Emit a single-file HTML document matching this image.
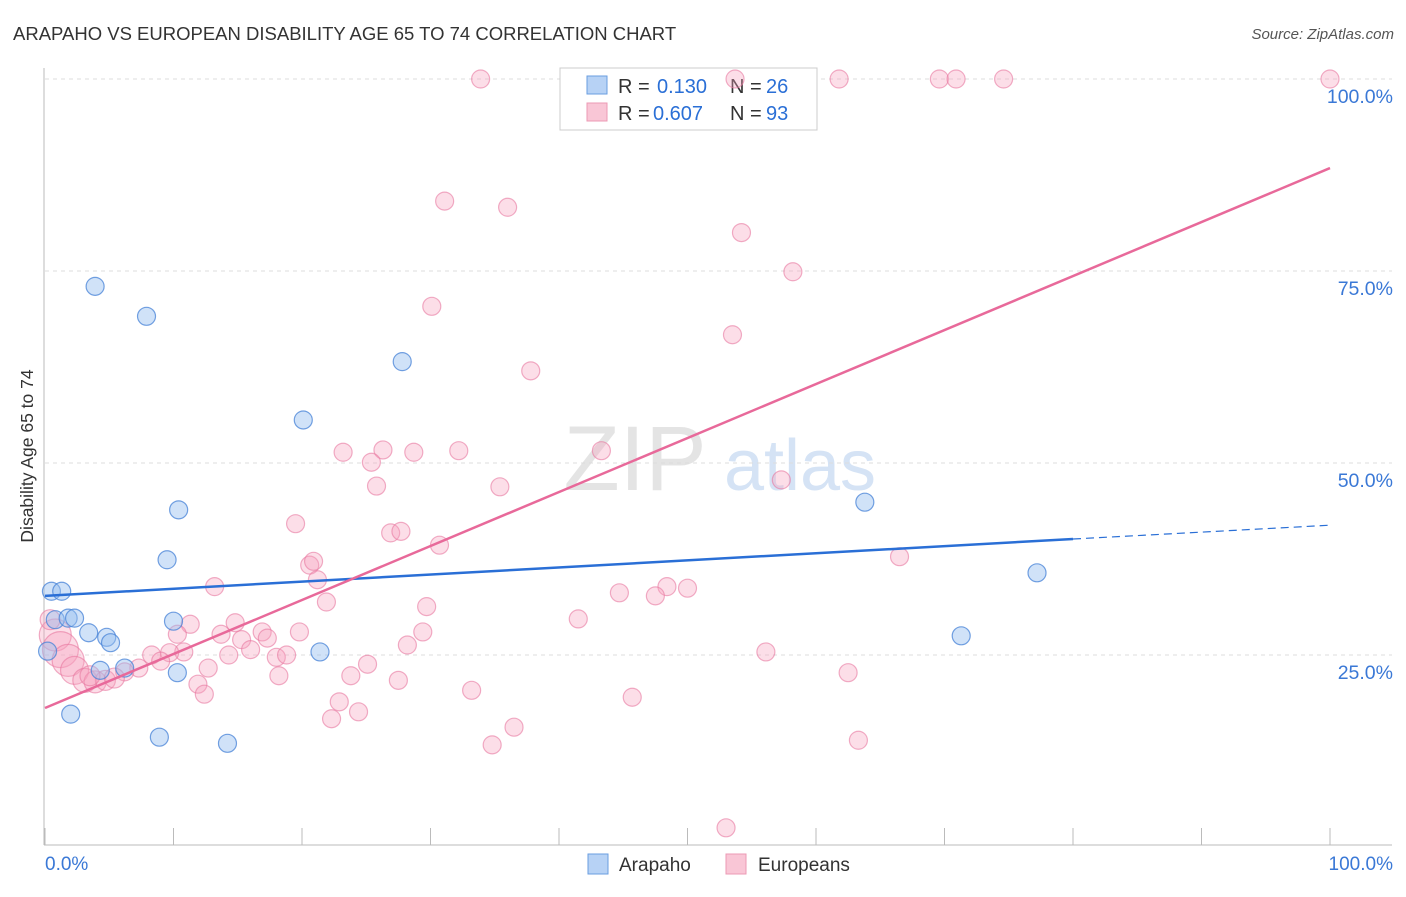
<!DOCTYPE html>
<html><head><meta charset="utf-8"><style>
body{margin:0;background:#fff;font-family:"Liberation Sans",sans-serif}
svg text{font-family:"Liberation Sans",sans-serif}
</style></head><body>
<svg id="chart" width="1406" height="892" xmlns="http://www.w3.org/2000/svg">
<text x="13" y="40" font-size="18.5" fill="#333">ARAPAHO VS EUROPEAN DISABILITY AGE 65 TO 74 CORRELATION CHART</text>
<text x="1394" y="39" font-size="15" fill="#555" text-anchor="end" font-style="italic">Source: ZipAtlas.com</text>
<text transform="translate(33,456) rotate(-90)" font-size="17.5" fill="#333" text-anchor="middle">Disability Age 65 to 74</text>
<g><text x="635" y="490" font-size="92" fill="#e4e4e4" text-anchor="middle" font-family="Liberation Serif">ZIP</text><text x="800" y="490" font-size="72" fill="#d5e3f5" text-anchor="middle">atlas</text></g>
<g id="grid"></g><g id="axes"></g>
<g>
<rect x="560" y="68" width="257" height="62" fill="#fff" stroke="#ccc"/>
<rect x="587" y="76" width="20" height="18" fill="#b7d2f5" stroke="#6a9ee0"/>
<rect x="587" y="103" width="20" height="18" fill="#f9c6d6" stroke="#ec9ab4"/>
<text x="618" y="93" font-size="20" fill="#333">R = </text><text x="657" y="93" font-size="20" fill="#2a6fd6">0.130</text>
<text x="730" y="93" font-size="20" fill="#333">N = </text><text x="766" y="93" font-size="20" fill="#2a6fd6">26</text>
<text x="618" y="120" font-size="20" fill="#333">R = </text><text x="653" y="120" font-size="20" fill="#2a6fd6">0.607</text>
<text x="730" y="120" font-size="20" fill="#333">N = </text><text x="766" y="120" font-size="20" fill="#2a6fd6">93</text>
</g>
<g id="marks"></g>
<g>
<rect x="588" y="854" width="20" height="20" fill="#b7d2f5" stroke="#6a9ee0"/>
<text x="619" y="871" font-size="19" fill="#333">Arapaho</text>
<rect x="726" y="854" width="20" height="20" fill="#f9c6d6" stroke="#ec9ab4"/>
<text x="758" y="871" font-size="19" fill="#333">Europeans</text>
</g>
</svg>
<script>
const yTicks=[25,50,75,100];
const yTickLabels=["25.0%","50.0%","75.0%","100.0%"];
const xTickLabels=["0.0%","100.0%"];
const arapahoX=[3.9,7.9,27.8,20.1,10.4,9.5,63.8,77.2,71.3,0.5,1.3,0.8,1.8,2.3,3.4,4.8,5.1,10.0,0.2,4.3,6.2,21.4,10.3,2.0,8.9,14.2];
const arapahoY=[73.0,69.1,63.2,55.6,43.9,37.4,44.9,35.7,27.5,33.3,33.3,29.6,29.8,29.8,27.9,27.3,26.6,29.4,25.5,23.0,23.3,25.4,22.7,17.3,14.3,13.5];
const euroX=[33.9,53.7,61.8,69.6,70.9,74.6,100,31.1,36.0,54.2,58.2,30.1,53.5,37.8,23.2,26.3,28.7,32.2,25.4,43.3,25.8,35.4,57.3,19.5,26.9,27.7,30.7,20.6,20.9,21.2,66.5,13.2,48.4,50.0,44.7,47.5,21.9,29.7,41.5,11.3,14.8,10.3,13.7,16.9,17.3,19.8,29.4,28.2,15.3,16.0,10.8,8.3,9.7,14.3,18.0,18.8,9.0,56.1,12.7,25.1,23.8,62.5,18.2,7.3,6.2,11.9,12.4,27.5,33.2,45.7,22.9,24.4,22.3,36.5,34.8,63.3,53.0,0.8,1.2,1.8,2.3,3.1,3.9,4.7,5.4,0.4,3.5];
const euroY=[100,100,100,100,100,100,100,84.1,83.3,80.0,74.9,70.4,66.7,62.0,51.4,51.7,51.4,51.6,50.1,51.6,47.0,46.9,47.8,42.1,40.9,41.1,39.3,36.7,37.2,34.8,37.8,33.9,33.9,33.7,33.1,32.7,31.9,31.3,29.7,29.0,29.2,27.7,27.7,28.0,27.2,28.0,28.0,26.3,27.0,25.7,25.4,25.0,25.3,25.0,24.7,25.0,24.2,25.4,23.3,23.8,22.3,22.7,22.3,23.3,22.8,21.2,19.9,21.7,20.4,19.5,18.9,17.6,16.7,15.6,13.3,13.9,2.5,27.6,25.7,24.3,23.0,21.7,21.5,21.7,22.0,29.6,22.3];
const euroBig=[16,18,16,14,12,11,10,10,10,10];
const arapahoTrend=[32.7,40.1,41.9];
const euroTrend=[18.1,88.4];
const X0=45,X1=1330,Y0=847,Y100=79;
const sx=v=>X0+(X1-X0)*v/100, sy=v=>Y0-(Y0-Y100)*v/100;
const NS="http://www.w3.org/2000/svg";
function mk(parent,tag,attrs){const e=document.createElementNS(NS,tag);for(const k in attrs)e.setAttribute(k,attrs[k]);document.getElementById(parent).appendChild(e);return e;}
yTicks.forEach((t,i)=>{
 const g=mk('grid','line',{x1:45,x2:1392,y1:sy(t),y2:sy(t),stroke:'#ddd','stroke-dasharray':'4,4'});
 
 
 const l=mk('axes','text',{x:1393,y:sy(t)+24,'font-size':19.5,fill:'#3a78d6','text-anchor':'end'});
 l.textContent=yTickLabels[i];
 
 
});
let ax=mk('axes','line',{x1:44,x2:44,y1:68,y2:845,stroke:'#bbb'});


ax=mk('axes','line',{x1:44,x2:1392,y1:845,y2:845,stroke:'#bbb'});


for(let i=0;i<=10;i++){const t=mk('axes','line',{x1:sx(i*10),x2:sx(i*10),y1:828,y2:845,stroke:'#bbb'});
 
 }
[[0,'start',45],[100,'end',1393]].forEach((d,i)=>{const l=mk('axes','text',{x:d[2],y:870,'font-size':19,fill:'#3a78d6','text-anchor':d[1]});l.textContent=xTickLabels[i];
 
 });
euroX.forEach((x,i)=>{const big=i>=euroX.length-euroBig.length?euroBig[i-(euroX.length-euroBig.length)]:9;
 const c=mk('marks','circle',{cx:sx(x),cy:sy(euroY[i]),r:big,fill:'rgba(245,160,188,0.35)',stroke:'rgba(232,120,160,0.6)','stroke-width':1.2});
 
 });
arapahoX.forEach((x,i)=>{const c=mk('marks','circle',{cx:sx(x),cy:sy(arapahoY[i]),r:9,fill:'rgba(150,190,240,0.45)',stroke:'rgba(70,130,215,0.75)','stroke-width':1.2});
 
 });
let ln=mk('marks','line',{x1:sx(0),y1:sy(arapahoTrend[0]),x2:sx(80),y2:sy(arapahoTrend[1]),stroke:'#2a6fd6','stroke-width':2.5});


ln=mk('marks','line',{x1:sx(80),y1:sy(arapahoTrend[1]),x2:sx(100),y2:sy(arapahoTrend[2]),stroke:'#2a6fd6','stroke-width':1.2,'stroke-dasharray':'8,5'});


ln=mk('marks','line',{x1:sx(0),y1:sy(euroTrend[0]),x2:sx(100),y2:sy(euroTrend[1]),stroke:'#e8699a','stroke-width':2.5});


</script>
</body></html>
